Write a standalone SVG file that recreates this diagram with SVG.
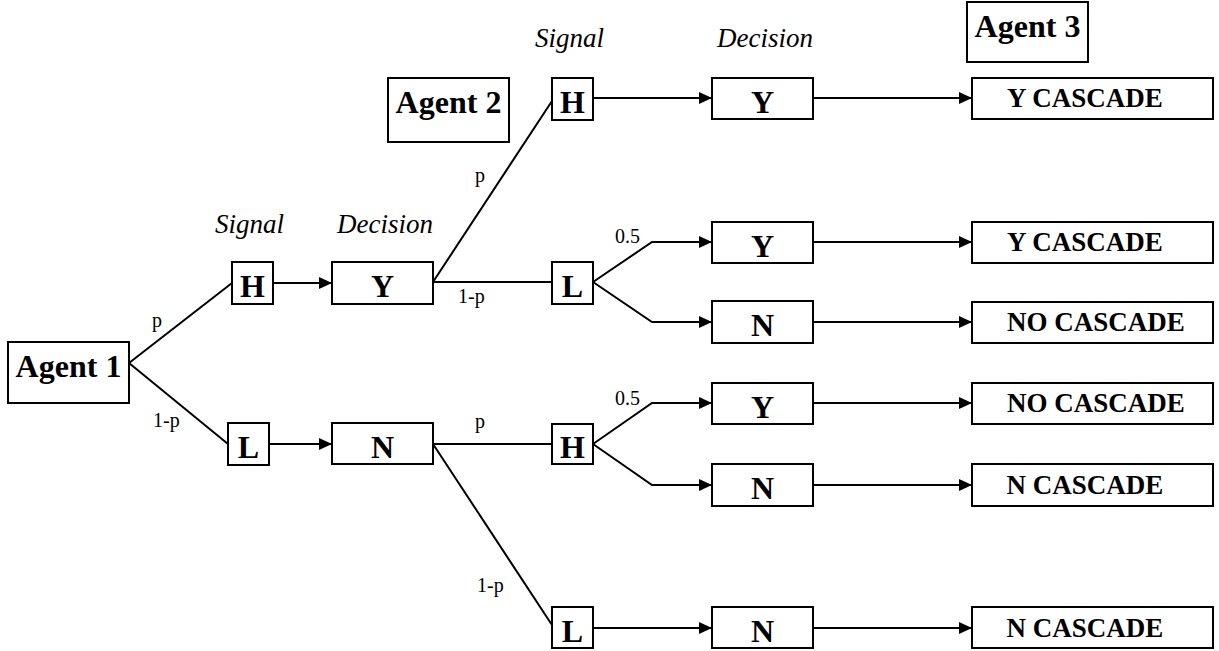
<svg xmlns="http://www.w3.org/2000/svg" width="1219" height="651" viewBox="0 0 1219 651">
  <style>
    .box { fill: #fff; stroke: #000; stroke-width: 2; }
    .big { font-family: "Liberation Serif", "Times New Roman", serif; font-weight: bold; font-size: 32px; text-anchor: middle; fill: #000; }
    .out { font-family: "Liberation Serif", "Times New Roman", serif; font-weight: bold; font-size: 27px; text-anchor: middle; fill: #000; }
    .head { font-family: "Liberation Serif", "Times New Roman", serif; font-style: italic; font-size: 27px; fill: #000; }
    .prob { font-family: "Liberation Serif", "Times New Roman", serif; font-size: 20px; fill: #000; }
    .link { fill: none; stroke: #000; stroke-width: 2; }
    .arrow { marker-end: url(#tip); }
  </style>
  <defs>
    <marker id="tip" markerUnits="userSpaceOnUse" markerWidth="14" markerHeight="13" refX="13" refY="6" orient="auto">
      <path d="M0,0 L13,6 L0,12 Z" fill="#000"/>
    </marker>
  </defs>
  <rect width="1219" height="651" fill="#fff"/>

  <!-- column headings -->
  <g id="headings">
    <text class="head" x="215" y="233">Signal</text>
    <text class="head" x="337" y="233">Decision</text>
    <text class="head" x="535" y="47">Signal</text>
    <text class="head" x="717" y="47">Decision</text>
  </g>

  <!-- connectors -->
  <g id="connectors">
    <line class="link" x1="129" y1="363" x2="232" y2="283"/>
    <line class="link" x1="129" y1="363" x2="228" y2="444"/>
    <line class="link arrow" x1="273" y1="283" x2="332" y2="283"/>
    <line class="link arrow" x1="269" y1="444" x2="332" y2="444"/>
    <line class="link" x1="433" y1="282" x2="552" y2="101"/>
    <line class="link" x1="433" y1="282" x2="552" y2="282"/>
    <line class="link" x1="433" y1="444" x2="552" y2="444"/>
    <line class="link" x1="433" y1="444" x2="552" y2="625"/>
    <line class="link arrow" x1="593" y1="98" x2="712" y2="98"/>
    <polyline class="link arrow" points="593,282 652,242 712,242"/>
    <polyline class="link arrow" points="593,282 652,322 712,322"/>
    <polyline class="link arrow" points="593,444 652,403 712,403"/>
    <polyline class="link arrow" points="593,444 652,485 712,485"/>
    <line class="link arrow" x1="593" y1="628" x2="712" y2="628"/>
    <line class="link arrow" x1="813" y1="98" x2="972" y2="98"/>
    <line class="link arrow" x1="813" y1="242" x2="972" y2="242"/>
    <line class="link arrow" x1="813" y1="322" x2="972" y2="322"/>
    <line class="link arrow" x1="813" y1="403" x2="972" y2="403"/>
    <line class="link arrow" x1="813" y1="485" x2="972" y2="485"/>
    <line class="link arrow" x1="813" y1="628" x2="972" y2="628"/>
  </g>

  <!-- branch probabilities -->
  <g id="probabilities">
    <text class="prob" x="152" y="327">p</text>
    <text class="prob" x="153" y="427">1-p</text>
    <text class="prob" x="475" y="182">p</text>
    <text class="prob" x="458" y="303">1-p</text>
    <text class="prob" x="475" y="428">p</text>
    <text class="prob" x="477" y="592">1-p</text>
    <text class="prob" x="615" y="243">0.5</text>
    <text class="prob" x="615" y="405">0.5</text>
  </g>

  <!-- agent 1 -->
  <g id="agent1">
    <rect class="box" x="8" y="342" width="121" height="61"/>
    <text class="big" x="68.5" y="377">Agent 1</text>
  </g>
  <g id="a1-signal-h">
    <rect class="box" x="232" y="262" width="41" height="42"/>
    <text class="big" x="252.5" y="297">H</text>
  </g>
  <g id="a1-signal-l">
    <rect class="box" x="228" y="423" width="41" height="42"/>
    <text class="big" x="248.5" y="458">L</text>
  </g>
  <g id="a1-decision-y">
    <rect class="box" x="332" y="262" width="101" height="42"/>
    <text class="big" x="382.5" y="297">Y</text>
  </g>
  <g id="a1-decision-n">
    <rect class="box" x="332" y="423" width="101" height="41"/>
    <text class="big" x="382.5" y="458">N</text>
  </g>

  <!-- agent 2 -->
  <g id="agent2">
    <rect class="box" x="388" y="78" width="121" height="64"/>
    <text class="big" x="448.5" y="113">Agent 2</text>
  </g>
  <g id="a2-signal-h1">
    <rect class="box" x="552" y="78" width="41" height="42"/>
    <text class="big" x="572.5" y="113">H</text>
  </g>
  <g id="a2-signal-l1">
    <rect class="box" x="552" y="262" width="41" height="42"/>
    <text class="big" x="572.5" y="297">L</text>
  </g>
  <g id="a2-signal-h2">
    <rect class="box" x="552" y="424" width="41" height="40"/>
    <text class="big" x="572.5" y="458">H</text>
  </g>
  <g id="a2-signal-l2">
    <rect class="box" x="552" y="607" width="41" height="41"/>
    <text class="big" x="572.5" y="642">L</text>
  </g>
  <g id="a2-decision-1">
    <rect class="box" x="712" y="78" width="101" height="41"/>
    <text class="big" x="762.5" y="113">Y</text>
  </g>
  <g id="a2-decision-2">
    <rect class="box" x="712" y="222" width="101" height="41"/>
    <text class="big" x="762.5" y="257">Y</text>
  </g>
  <g id="a2-decision-3">
    <rect class="box" x="712" y="301" width="101" height="42"/>
    <text class="big" x="762.5" y="336">N</text>
  </g>
  <g id="a2-decision-4">
    <rect class="box" x="712" y="383" width="101" height="41"/>
    <text class="big" x="762.5" y="418">Y</text>
  </g>
  <g id="a2-decision-5">
    <rect class="box" x="712" y="464" width="101" height="42"/>
    <text class="big" x="762.5" y="499">N</text>
  </g>
  <g id="a2-decision-6">
    <rect class="box" x="712" y="607" width="101" height="41"/>
    <text class="big" x="762.5" y="642">N</text>
  </g>

  <!-- agent 3 outcomes -->
  <g id="agent3">
    <rect class="box" x="967" y="2" width="121" height="60"/>
    <text class="big" x="1027.5" y="37">Agent 3</text>
  </g>
  <g id="outcome-1">
    <rect class="box" x="972" y="78" width="241" height="41"/>
    <text class="out" x="1085" y="107">Y CASCADE</text>
  </g>
  <g id="outcome-2">
    <rect class="box" x="972" y="222" width="241" height="41"/>
    <text class="out" x="1085" y="251">Y CASCADE</text>
  </g>
  <g id="outcome-3">
    <rect class="box" x="972" y="302" width="241" height="41"/>
    <text class="out" x="1096" y="331">NO CASCADE</text>
  </g>
  <g id="outcome-4">
    <rect class="box" x="972" y="383" width="241" height="41"/>
    <text class="out" x="1096" y="412">NO CASCADE</text>
  </g>
  <g id="outcome-5">
    <rect class="box" x="972" y="464" width="241" height="42"/>
    <text class="out" x="1085" y="494">N CASCADE</text>
  </g>
  <g id="outcome-6">
    <rect class="box" x="972" y="607" width="241" height="41"/>
    <text class="out" x="1085" y="637">N CASCADE</text>
  </g>
</svg>
